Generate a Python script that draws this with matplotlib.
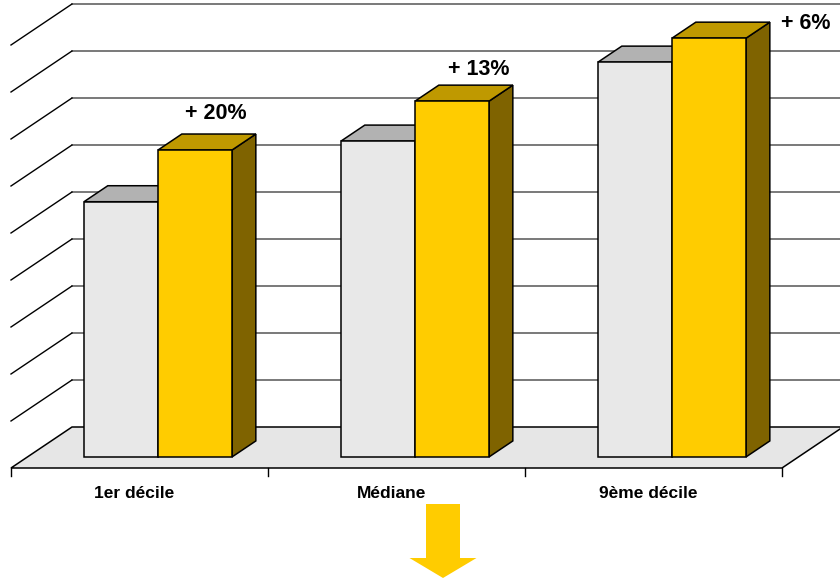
import matplotlib
matplotlib.use('Agg')
import matplotlib.pyplot as plt
from matplotlib.patches import Polygon, FancyArrow

# values in grid units (one gridline step = 1)
categories = ['1er décile', 'Médiane', '9ème décile']
before = [5.43, 6.72, 8.40]
after = [6.53, 7.57, 8.91]
growth = ['+ 20%', '+ 13%', '+ 6%']
n_grid = 9

# oblique projection: d = depth (0 front edge of floor, 1 back wall)
CAT_PX = 257.0
UNIT_PX = 47.0
DX = 61 / CAT_PX
DY = 41 / UNIT_PX


def proj(x, v, d):
    return (x + d * DX, v + d * DY)


def box(ax, x0, w, v, d0, d1, c_front, c_top, c_side):
    side = [proj(x0 + w, 0, d0), proj(x0 + w, 0, d1),
            proj(x0 + w, v, d1), proj(x0 + w, v, d0)]
    top = [proj(x0, v, d0), proj(x0 + w, v, d0),
           proj(x0 + w, v, d1), proj(x0, v, d1)]
    front = [proj(x0, 0, d0), proj(x0 + w, 0, d0),
             proj(x0 + w, v, d0), proj(x0, v, d0)]
    for pts, c in ((side, c_side), (top, c_top), (front, c_front)):
        ax.add_patch(Polygon(pts, closed=True, fc=c, ec='black',
                             lw=1.1, joinstyle='miter', zorder=5))


fig = plt.figure(figsize=(8.4, 5.78), dpi=100)
ax = fig.add_axes([0, 0, 1, 1])
ax.set_xlim(-11 / CAT_PX, 829 / CAT_PX)
ax.set_ylim(-110 / UNIT_PX, 468 / UNIT_PX)
ax.axis('off')

ncat = len(categories)

# floor
floor = [proj(0, 0, 0), proj(ncat, 0, 0), proj(ncat, 0, 1), proj(0, 0, 1)]
ax.add_patch(Polygon(floor, closed=True, fc='#E6E6E6', ec='black',
                     lw=1.1, zorder=1))

# back wall gridlines + side wall diagonals
for k in range(1, n_grid + 1):
    xa, ya = proj(0, k, 1)
    xb, yb = proj(ncat, k, 1)
    ax.plot([xa, xb], [ya, yb], color='#555555', lw=1.1, zorder=2)
    xf, yf = proj(0, k, 0)
    ax.plot([xf, xa], [yf, ya], color='black', lw=1.0, zorder=2)

# ticks under the floor front edge
for i in range(ncat + 1):
    ax.plot([i, i], [0, -8 / UNIT_PX], color='black', lw=1.0, zorder=2)

# bars
off, w = 0.22, 0.288
d0, d1 = 0.27, 0.66
label_shift = [(-3, 10), (3, 5), (73, -12)]  # pixel nudges for growth labels
for i in range(ncat):
    box(ax, i + off, w, before[i], d0, d1, '#E8E8E8', '#B2B2B2', '#808080')
    box(ax, i + off + w, w, after[i], d0, d1, '#FFCC00', '#BF9900', '#7F6300')
    lx, ly = proj(i + off + 1.5 * w, after[i], d1)
    sx, sy = label_shift[i]
    ax.text(lx + sx / CAT_PX, ly + sy / UNIT_PX, growth[i], ha='center',
            va='bottom', fontsize=15.5, fontweight='bold',
            family='Liberation Sans', zorder=6)
    ax.text(i + 0.5 - 5 / CAT_PX, -25 / UNIT_PX, categories[i], ha='center',
            va='center', fontsize=12.5, fontweight='bold',
            family='Liberation Sans')

# yellow arrow under the chart
fig.patches.append(FancyArrow(443 / 840, 1 - 504 / 578, 0, -74 / 578,
                              width=34 / 840, head_width=67 / 840,
                              head_length=20 / 578,
                              length_includes_head=True,
                              transform=fig.transFigure, fc='#FFCC00',
                              ec='none', figure=fig))

plt.savefig('out.png', dpi=100)
plt.close()
